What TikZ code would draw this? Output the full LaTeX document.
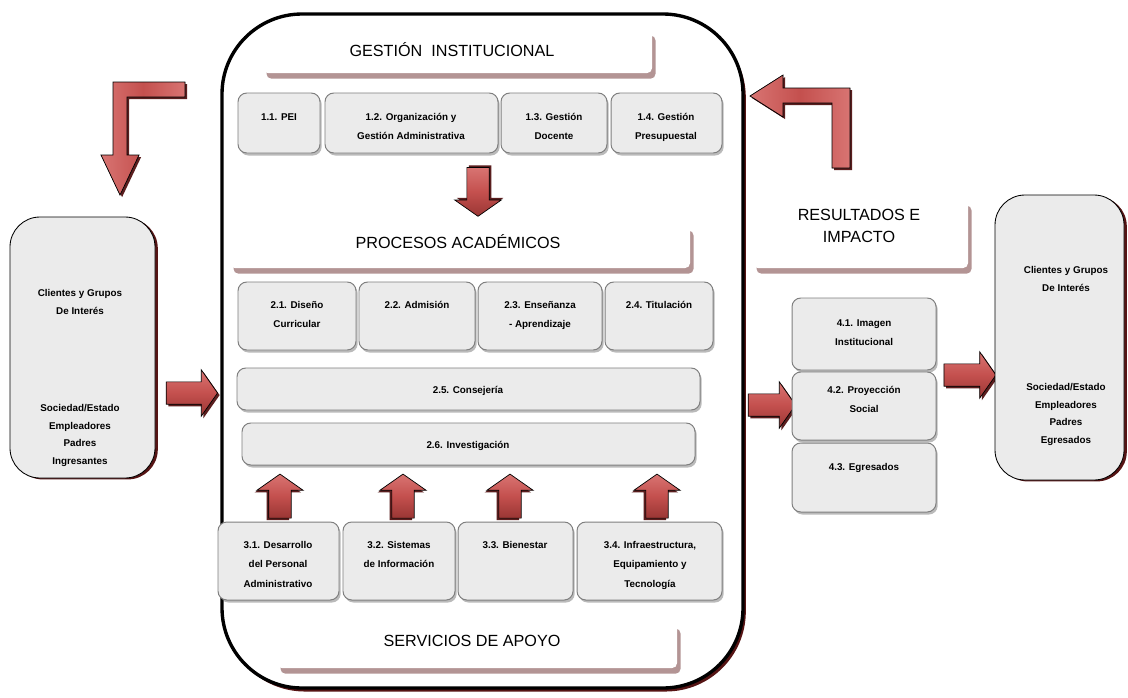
\documentclass[tikz,border=0pt]{standalone}
\usepackage{fontspec}
\setmainfont{Liberation Sans}
\usepackage{xcolor}
\usetikzlibrary{shapes.arrows, shadows}

\definecolor{cellfill}{HTML}{EBEBEB}
\definecolor{cellborder}{HTML}{7F7F7F}
\definecolor{arrowlight}{HTML}{D87472}
\definecolor{arrowmid}{HTML}{C4504E}
\definecolor{arrowdark}{HTML}{9A3634}
\definecolor{arrowshadow}{HTML}{5A1E1E}
\definecolor{bannershadow}{HTML}{B39494}
\definecolor{framedark}{HTML}{561414}

\tikzset{
  mainframe/.style={draw=black, fill=white, line width=2.4pt, rounded corners=2cm,
    drop shadow={shadow xshift=2pt, shadow yshift=-2.5pt, fill=framedark, opacity=1}},
  sidebox/.style={draw=black, line width=0.6pt, fill=cellfill, rounded corners=0.75cm,
    drop shadow={shadow xshift=2pt, shadow yshift=-1pt, fill=framedark, opacity=1}},
  cell/.style={draw=cellborder, fill=cellfill, line width=0.7pt, rounded corners=0.22cm,
    drop shadow={shadow xshift=1.2pt, shadow yshift=-1.8pt, fill=black!60, opacity=0.45}},
  celltext/.style={anchor=north, align=center, inner sep=0pt,
    font=\fontsize{7}{13.8}\selectfont\bfseries},
  sidetext/.style={anchor=north, align=center, inner sep=0pt,
    font=\fontsize{7}{12.6}\selectfont\bfseries},
  banner/.style={fill=white, rounded corners=0.12cm,
    drop shadow={shadow xshift=2.5pt, shadow yshift=-4pt, fill=bannershadow, opacity=1}},
  heading/.style={align=center, inner sep=0pt, font=\fontsize{11.5}{15.6}\selectfont},
  blockarrow/.style={single arrow, draw=black, line width=0.5pt, inner xsep=0pt,
    inner ysep=0.27cm, single arrow head extend=0.3cm, single arrow tip angle=110,
    top color=arrowlight, bottom color=arrowdark, middle color=arrowmid},
  rightarrow/.style={blockarrow,
    drop shadow={shadow xshift=1.5pt, shadow yshift=-1.5pt, fill=arrowshadow, opacity=1}},
  uparrow/.style={blockarrow, rotate=90, minimum height=1.1cm,
    drop shadow={shadow xshift=-1.5pt, shadow yshift=-1.5pt, fill=arrowshadow, opacity=1}},
  downarrow/.style={blockarrow, rotate=-90, minimum height=1.22cm,
    drop shadow={shadow xshift=1.5pt, shadow yshift=1.5pt, fill=arrowshadow, opacity=1}},
  bentarrow/.style={draw=black, line width=0.5pt,
    left color=arrowlight, right color=arrowlight, middle color=arrowmid,
    drop shadow={shadow xshift=1.5pt, shadow yshift=-1.5pt, fill=arrowshadow, opacity=1}}
}

\begin{document}
\begin{tikzpicture}[x=0.025cm, y=-0.025cm]
\useasboundingbox (0,0) rectangle (1128,697);

% marco central
\draw[mainframe] (222,14) rectangle (743,688);

% gestion institucional
\fill[banner] (263,30) rectangle (652,73);
\node[heading] (gi) at (452,50) {GESTIÓN\ \ INSTITUCIONAL};
\draw[cell] (238,93) rectangle (320,153);
\draw[cell] (325,93) rectangle (498,153);
\draw[cell] (501,93) rectangle (607,153);
\draw[cell] (611,93) rectangle (722,153);
\node[celltext] (pei) at (279,113) {1.1. PEI};
\node[celltext] (orgadm) at (411,113) {1.2. Organización y\\Gestión Administrativa};
\node[celltext] (gdoc) at (554,113) {1.3. Gestión\\Docente};
\node[celltext] (gpres) at (666,113) {1.4. Gestión\\Presupuestal};

\node[downarrow] (d1) at (478,188) {};

% procesos academicos
\fill[banner] (230,225) rectangle (690,268);
\node[heading] (pa) at (458,242) {PROCESOS ACADÉMICOS};
\draw[cell] (238,282) rectangle (356,350);
\draw[cell] (359,282) rectangle (475,350);
\draw[cell] (478,282) rectangle (602,350);
\draw[cell] (605,282) rectangle (713,350);
\node[celltext] (dcur) at (297,301) {2.1. Diseño\\Curricular};
\node[celltext] (adm) at (417,301) {2.2. Admisión};
\node[celltext] (ensap) at (540,301) {2.3. Enseñanza\\- Aprendizaje};
\node[celltext] (tit) at (659,301) {2.4. Titulación};
\draw[cell] (237,368) rectangle (700,410);
\node[celltext] (cons) at (468,386) {2.5. Consejería};
\draw[cell] (242,423) rectangle (695,465);
\node[celltext] (inv) at (468,441) {2.6. Investigación};

\foreach \x/\n in {280/u1, 403/u2, 510/u3, 657/u4}
  \node[uparrow] (\n) at (\x,500) {};

% servicios de apoyo
\draw[cell] (218,522) rectangle (339,600);
\draw[cell] (343,522) rectangle (455,600);
\draw[cell] (458,522) rectangle (573,600);
\draw[cell] (577,522) rectangle (722,600);
\node[celltext] (desp) at (278,541) {3.1. Desarrollo\\del Personal\\Administrativo};
\node[celltext] (sinf) at (399,541) {3.2. Sistemas\\de Información};
\node[celltext] (bien) at (515,541) {3.3. Bienestar};
\node[celltext] (infra) at (650,541) {3.4. Infraestructura,\\Equipamiento y\\Tecnología};
\fill[banner] (277,623) rectangle (677,668);
\node[heading] (sa) at (472,641) {SERVICIOS DE APOYO};

% clientes de entrada
\draw[sidebox] (10,217) rectangle (155,478);
\node[sidetext] (cin) at (80,289) {Clientes y Grupos\\De Interés};
\node[sidetext] (sin) at (80,404) {Sociedad/Estado\\Empleadores\\Padres\\Ingresantes};
\node[rightarrow, minimum height=1.28cm] (a1) at (188,393) {};

% resultados e impacto
\fill[banner] (753,200) rectangle (968,268);
\node[heading] (ri) at (859,226) {RESULTADOS E\\IMPACTO};
\node[rightarrow, minimum height=1.18cm] (a2) at (768,405) {};
\draw[cell] (792,298) rectangle (936,370);
\draw[cell] (792,372) rectangle (936,440);
\draw[cell] (792,443) rectangle (936,512);
\node[celltext] (img) at (864,319) {4.1. Imagen\\Institucional};
\node[celltext] (proy) at (864,386) {4.2. Proyección\\Social};
\node[celltext] (egr) at (864,463) {4.3. Egresados};
\node[rightarrow, minimum height=1.3cm] (a3) at (966,375) {};

% clientes de salida
\draw[sidebox] (995,195) rectangle (1124,480);
\node[sidetext] (cout) at (1066,266) {Clientes y Grupos\\De Interés};
\node[sidetext] (sout) at (1066,383) {Sociedad/Estado\\Empleadores\\Padres\\Egresados};

% retroalimentacion
\filldraw[bentarrow] (185,82) -- (113,82) -- (113,155) -- (101,155) -- (120,195)
  -- (139,155) -- (127,155) -- (127,97) -- (185,97) -- cycle;
\filldraw[bentarrow] (850,168) -- (850,88) -- (783,88) -- (783,75) -- (750,96)
  -- (783,117) -- (783,103) -- (832,103) -- (832,168) -- cycle;
\end{tikzpicture}
\end{document}
